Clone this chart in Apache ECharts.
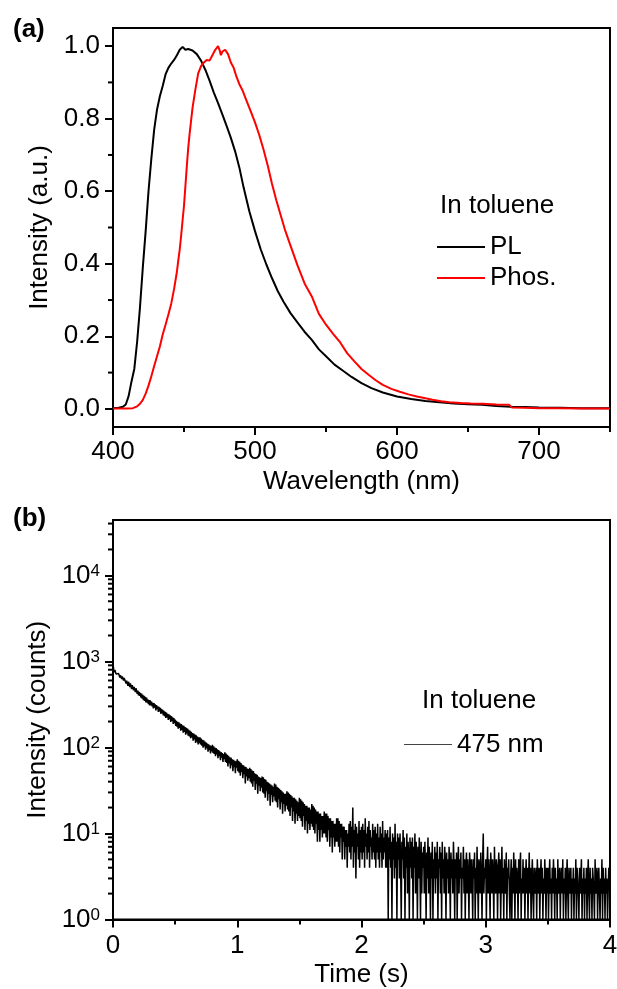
<!DOCTYPE html>
<html><head><meta charset="utf-8">
<script src="https://cdn.jsdelivr.net/npm/echarts@6/dist/echarts.min.js"></script>
<style>html,body{margin:0;padding:0;background:#fff}#c{width:617px;height:989px}</style>
</head><body><div id="c"></div>
<script>
// ---------- panel (a): steady-state spectra ----------
const plWavelength = [400,404,407,409,411,413,415,417,419,421,423,425,427,429,431,433,435,437,439,441,443,445,447,449,451,453,456,459,462,465,468,471,474,477,480,483,486,489,492,496,500,504,508,512,516,520,525,530,535,540,545,550,556,562,568,575,582,590,600,610,620,630,640,650,660,670,680,690,700,715,730,750];
const plIntensity = [0.002,0.003,0.006,0.012,0.035,0.075,0.11,0.185,0.28,0.39,0.49,0.6,0.69,0.77,0.825,0.862,0.89,0.922,0.94,0.952,0.962,0.975,0.99,0.998,0.99,0.992,0.988,0.978,0.96,0.935,0.905,0.872,0.843,0.812,0.78,0.747,0.71,0.665,0.61,0.545,0.49,0.44,0.398,0.36,0.325,0.296,0.264,0.238,0.212,0.19,0.164,0.145,0.122,0.105,0.088,0.071,0.057,0.045,0.034,0.027,0.022,0.018,0.015,0.013,0.011,0.008,0.006,0.005,0.004,0.003,0.002,0.002];
const phosWavelength = [400,405,410,414,417,419,421,423,425,427,429,431,433,435,437,439,441,443,445,446,447,448,449,450,451,452,453,454,455,456,458,460,462,464,466,468,470,472,474,475,476,477,479,481,483,485,487,489,491,494,497,500,503,506,509,512,515,518,521,525,530,535,540,545,550,555,560,565,570,575,580,585,590,596,602,608,614,620,625,631,637,645,652,660,670,679,681,690,700,715,730,750];
const phosIntensity = [0.001,0.001,0.001,0.002,0.007,0.014,0.025,0.042,0.064,0.09,0.118,0.145,0.172,0.205,0.232,0.26,0.29,0.33,0.378,0.41,0.44,0.478,0.52,0.56,0.615,0.67,0.72,0.76,0.795,0.83,0.88,0.925,0.945,0.955,0.962,0.96,0.975,0.99,1.0,0.99,0.975,0.985,0.99,0.978,0.955,0.94,0.915,0.895,0.88,0.85,0.82,0.79,0.755,0.715,0.67,0.62,0.575,0.535,0.495,0.45,0.395,0.345,0.31,0.262,0.232,0.207,0.183,0.153,0.131,0.11,0.094,0.079,0.066,0.055,0.047,0.04,0.034,0.029,0.025,0.021,0.018,0.016,0.015,0.014,0.012,0.011,0.004,0.003,0.002,0.002,0.001,0.001];
const topXTicks = [400,500,600,700];
const topXMinorTicks = [450,550,650,750];
const topYTicks = [0,0.2,0.4,0.6,0.8,1.0];
const topYMinorTicks = [0.1,0.3,0.5,0.7,0.9];

// ---------- panel (b): phosphorescence decay at 475 nm ----------
const decayTimeStep = 0.005; // s per channel, first channel at t = 0
const decayCounts = [
940,812,748,795,760,712,751,738,681,722,705,651,690,676,622,668,649,598,641,620,
626,552,598,571,520,579,548,501,555,532,478,529,512,461,505,492,441,487,470,421,
458,402,441,397,431,379,422,370,409,355,398,348,387,334,379,331,362,318,355,308,
352,309,341,300,330,285,327,291,316,270,311,279,301,258,297,263,288,246,281,249,
274,236,266,231,259,220,254,224,246,209,242,213,236,198,231,203,224,188,219,192,
211,178,204,174,199,165,196,169,190,157,187,160,181,148,178,152,173,141,169,146,
166,137,160,134,156,128,152,131,147,120,145,124,141,113,138,117,134,108,131,112,
131,108,127,105,123,99,121,103,117,94,114,98,111,89,109,93,106,85,104,90,
107,86,103,84,100,79,98,83,95,75,93,79,90,71,88,76,86,68,84,73,
88,68,85,66,82,60,80,65,77,57,76,62,73,53,72,59,70,50,69,58,
73,53,70,51,68,47,66,52,63,44,62,49,60,38,59,46,57,41,56,44,
58,40,56,38,54,35,53,41,50,32,49,38,48,29,46,36,45,31,44,34,
46,30,45,29,43,26,42,31,40,24,39,29,38,21,37,28,36,23,35,27,
38,24,37,23,35,20,34,25,33,19,32,23,31,17,30,22,29,18,29,21,
31,19,30,18,29,16,28,20,27,14,26,18,26,13,25,17,24,14,23,16,
26,15,25,14,24,12,23,16,22,11,21,14,21,10,20,13,20,11,19,13,
22,12,21,11,20,10,19,13,18,8,18,11,17,8,17,11,16,9,16,10,
18,10,17,9,17,8,16,11,15,7,15,9,14,6,14,9,13,7,13,8,
15,8,15,7,14,6,13,9,13,5,12,8,12,5,11,7,11,4,10,7,
13,6,14,5,12,7,20,4,11,6,13,3,12,7,10,5,14,4,11,6,
12,5,13,6,11,4,15,7,10,5,12,6,14,4,11,7,9,5,13,6,
11,5,12,4,10,6,13,5,9,4,12,6,10,4,14,5,9,6,11,4,
10,4,11,1,9,5,12,4,8,1,10,5,9,3,13,4,8,1,10,5,
9,3,10,4,1,8,5,11,3,9,1,7,4,10,2,8,5,1,9,4,
8,3,9,1,7,4,10,2,8,5,1,7,3,9,4,1,8,2,6,4,
7,2,8,4,1,6,3,9,2,7,4,1,6,3,8,1,5,3,7,2,
6,3,8,1,5,4,7,2,6,1,8,3,5,2,7,4,1,6,3,5,
2,7,4,1,6,3,5,2,8,4,1,5,3,6,1,4,7,2,5,3,
6,1,4,3,7,2,5,1,4,6,2,5,3,1,6,4,2,5,3,1,
5,3,6,1,4,2,7,3,1,5,4,2,6,3,1,5,10,2,4,3,
5,1,4,7,2,5,3,1,6,4,2,5,3,1,7,3,2,5,4,1,
4,6,2,5,1,3,7,2,4,1,5,3,2,6,1,4,3,5,2,1,
3,5,1,4,2,6,3,1,5,2,4,3,1,5,2,4,6,1,3,2,
5,2,4,1,3,5,2,4,1,3,6,2,4,1,3,5,2,1,4,3,
2,4,1,5,3,2,4,1,3,5,2,4,1,3,2,5,3,1,4,2,
4,1,3,5,2,3,1,4,2,5,3,1,4,2,3,1,5,2,3,4,
1,3,4,2,5,1,3,2,4,1,3,5,2,1,4,3,2,4,1,3,
2,4,1,3,2,5,1,4,3,2,1,4,2,3,5,1,3,2,4,1,
3,2,4,1,3,5,2,1,4,2,3,1,4,3,2,1,5,2,3,4,
1,3,4,2,1,3,2,5,1,4,2,3,1,4,2,3,1,2,4,3,
6];
const bottomXTicks = [0,1,2,3,4];
const bottomYTicks = [1,10,100,1000,10000];
const bottomYMinorTicks = [2,3,4,5,6,7,8,9,20,30,40,50,60,70,80,90,200,300,400,500,600,700,800,900,2000,3000,4000,5000,6000,7000,8000,9000,20000,30000,40000];

// ---------- build ----------
const FONT = '"Liberation Sans", Arial, Helvetica, sans-serif';
const FS = 26;
const plData = plWavelength.map((w, i) => [w, plIntensity[i]]);
const phosData = phosWavelength.map((w, i) => [w, phosIntensity[i]]);
const decayData = decayCounts.map((c, i) => [+(i * decayTimeStep).toFixed(3), c]);

const lineBlack = {color: '#000', width: 2};
const txt = {fontSize: FS, color: '#000', fontFamily: FONT};

function mainAxis(extra) {
  return Object.assign({
    type: 'value',
    axisLine: {show: true, onZero: false, lineStyle: lineBlack},
    splitLine: {show: false},
    minorSplitLine: {show: false}
  }, extra);
}

// minor tick marks, positioned through the axes' own scales
function minorTicks(xi, yi, dir, values, anchor, len) {
  return {
    type: 'custom', xAxisIndex: xi, yAxisIndex: yi, silent: true, clip: false, z: 10,
    data: values.map(v => dir === 'x' ? [v, anchor] : [anchor, v]),
    renderItem: (params, api) => {
      const p = api.coord([api.value(0), api.value(1)]);
      const shape = dir === 'x'
        ? {x1: p[0], y1: p[1], x2: p[0], y2: p[1] + len}
        : {x1: p[0] - len, y1: p[1], x2: p[0], y2: p[1]};
      return {type: 'line', shape: shape, style: {stroke: '#000', lineWidth: 2}};
    }
  };
}

const chart = echarts.init(document.getElementById('c'), null, {renderer: 'canvas'});
chart.setOption({
  animation: false,
  backgroundColor: '#fff',
  textStyle: {fontFamily: FONT, color: '#000'},
  grid: [
    {left: 113, top: 28, width: 497, height: 399, show: true, borderColor: '#000', borderWidth: 2, backgroundColor: 'transparent', containLabel: false, outerBoundsMode: 'none'},
    {left: 113, top: 520, width: 497, height: 399.5, show: true, borderColor: '#000', borderWidth: 2, backgroundColor: 'transparent', containLabel: false, outerBoundsMode: 'none'}
  ],
  xAxis: [
    mainAxis({gridIndex: 0, min: 400, max: 750, position: 'bottom',
      axisTick: {show: true, inside: false, length: 8, lineStyle: lineBlack, customValues: topXTicks},
      axisLabel: Object.assign({show: true, margin: 12, customValues: topXTicks}, txt),
      name: 'Wavelength (nm)', nameLocation: 'middle', nameGap: 42, nameTextStyle: txt}),
    mainAxis({gridIndex: 1, min: 0, max: 4, interval: 1, position: 'bottom',
      axisTick: {show: true, inside: false, length: 8, lineStyle: lineBlack, customValues: bottomXTicks},
      minorTick: {show: true, splitNumber: 2, length: 5, lineStyle: lineBlack},
      axisLabel: Object.assign({show: true, margin: 13, customValues: bottomXTicks}, txt),
      name: 'Time (s)', nameLocation: 'middle', nameGap: 42, nameTextStyle: txt})
  ],
  yAxis: [
    mainAxis({gridIndex: 0, min: -0.05, max: 1.05, position: 'left',
      axisTick: {show: true, inside: false, length: 8, lineStyle: lineBlack, customValues: topYTicks},
      axisLabel: Object.assign({show: true, margin: 13, customValues: topYTicks, formatter: v => Number(v).toFixed(1)}, txt),
      name: 'Intensity (a.u.)', nameLocation: 'middle', nameGap: 58, nameRotate: 90, nameTextStyle: txt}),
    {gridIndex: 1, type: 'log', logBase: 10, min: 1, max: 44000, position: 'left',
      axisLine: {show: true, onZero: false, lineStyle: lineBlack},
      splitLine: {show: false},
      axisTick: {show: true, inside: false, length: 8, lineStyle: lineBlack, customValues: bottomYTicks},
      axisLabel: Object.assign({show: true, margin: 13, customValues: bottomYTicks,
        formatter: v => '10{sup|' + Math.round(Math.log10(v)) + '}',
        rich: {sup: {fontSize: 17, lineHeight: 17, verticalAlign: 'top', color: '#000', fontFamily: FONT}}}, txt),
      name: 'Intensity (counts)', nameLocation: 'middle', nameGap: 58, nameRotate: 90, nameTextStyle: txt}
  ],
  legend: [
    {data: [{name: 'PL', itemStyle: {color: '#000'}}, {name: 'Phos.', itemStyle: {color: '#ff0000'}}],
      orient: 'vertical', left: 437, top: 234, padding: 0, itemGap: 5, itemWidth: 48, itemHeight: 2,
      icon: 'rect', selectedMode: false, textStyle: txt},
    {data: [{name: '475 nm', itemStyle: {color: '#444'}}],
      orient: 'vertical', left: 404, top: 731.5, padding: 0, itemWidth: 48, itemHeight: 1,
      icon: 'rect', selectedMode: false, textStyle: txt}
  ],
  graphic: [
    {type: 'text', left: 13, top: 17, style: {text: '(a)', fontSize: FS, fontWeight: 'bold', fontFamily: FONT, fill: '#000'}},
    {type: 'text', left: 13, top: 506, style: {text: '(b)', fontSize: FS, fontWeight: 'bold', fontFamily: FONT, fill: '#000'}},
    {type: 'text', left: 440, top: 193, style: {text: 'In toluene', fontSize: FS, fontFamily: FONT, fill: '#000'}},
    {type: 'text', left: 422, top: 688, style: {text: 'In toluene', fontSize: FS, fontFamily: FONT, fill: '#000'}}
  ],
  series: [
    {name: 'PL', type: 'line', xAxisIndex: 0, yAxisIndex: 0, data: plData, symbol: 'none', showSymbol: false,
      lineStyle: {color: '#000', width: 2}, itemStyle: {color: '#000'}, z: 3},
    {name: 'Phos.', type: 'line', xAxisIndex: 0, yAxisIndex: 0, data: phosData, symbol: 'none', showSymbol: false,
      lineStyle: {color: '#ff0000', width: 2}, itemStyle: {color: '#ff0000'}, z: 4},
    {name: '475 nm', type: 'line', xAxisIndex: 1, yAxisIndex: 1, data: decayData, symbol: 'none', showSymbol: false,
      lineStyle: {color: '#000', width: 1.5}, itemStyle: {color: '#444'}, z: 3},
    minorTicks(0, 0, 'x', topXMinorTicks, -0.05, 5),
    minorTicks(0, 0, 'y', topYMinorTicks, 400, 5),
    minorTicks(1, 1, 'y', bottomYMinorTicks, 0, 5)
  ]
});
</script>
</body></html>
